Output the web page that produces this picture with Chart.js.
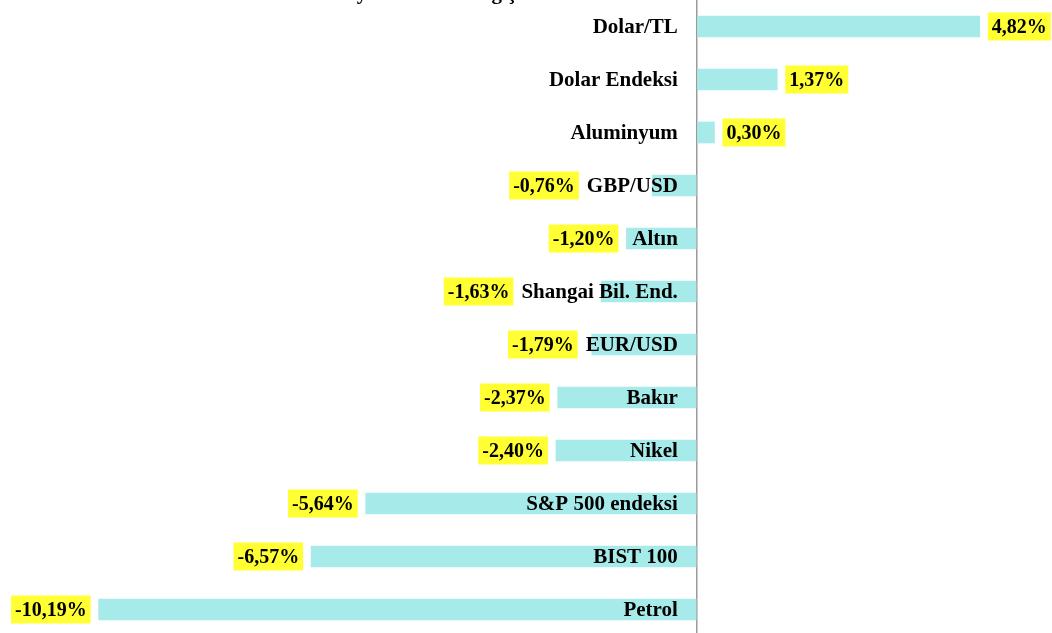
<!DOCTYPE html>
<html>
<head>
<meta charset="utf-8">
<script src="https://cdn.jsdelivr.net/npm/chart.js@4.4.1/dist/chart.umd.min.js"></script>
<style>
    html, body { margin: 0; padding: 0; background: #fff; overflow: hidden; }
    #wrap { position: relative; width: 1052px; height: 636px; }
    #title {
        position: absolute; left: 338px; top: -20px;
        font: bold 21px 'Liberation Serif', serif; color: #000; white-space: nowrap;
    }
</style>
</head>
<body>
<div id="wrap">
    <canvas id="changeChart" width="1052" height="636"></canvas>
    <div id="title">Piyasalardaki Değişimler</div>
</div>
<script>
const categories = ['Dolar/TL', 'Dolar Endeksi', 'Aluminyum', 'GBP/USD', 'Altın', 'Shangai Bil. End.',
    'EUR/USD', 'Bakır', 'Nikel', 'S&P 500 endeksi', 'BIST 100', 'Petrol'];
const changes = [4.82, 1.37, 0.30, -0.76, -1.20, -1.63, -1.79, -2.37, -2.40, -5.64, -6.57, -10.19];

const catFont = "bold 21px 'Liberation Serif', serif";
const valFont = "bold 20px 'Liberation Serif', serif";

function formatPct(v) {
    return v.toFixed(2).replace('.', ',') + '%';
}

// category names next to the zero line, and yellow value boxes at the bar ends
const barLabels = {
    id: 'barLabels',
    afterDatasetsDraw(chart) {
        const ctx = chart.ctx;
        const meta = chart.getDatasetMeta(0);
        const zeroX = chart.scales.x.getPixelForValue(0);
        const labelRight = zeroX - 19;
        ctx.save();
        ctx.textBaseline = 'middle';
        meta.data.forEach((bar, i) => {
            // category text
            ctx.font = catFont;
            ctx.fillStyle = '#000';
            ctx.textAlign = 'right';
            ctx.fillText(categories[i], labelRight, bar.y + 1);
            const labelLeft = labelRight - ctx.measureText(categories[i]).width;

            // value box
            const v = changes[i];
            const text = formatPct(v);
            ctx.font = valFont;
            const w = ctx.measureText(text).width + 8;
            const h = 28;
            let left;
            if (v >= 0) {
                left = bar.x + 8;
            } else {
                left = Math.min(bar.x, labelLeft) - 8 - w;
            }
            ctx.fillStyle = '#ffff33';
            ctx.fillRect(left, bar.y - h / 2, w, h);
            ctx.fillStyle = '#000';
            ctx.textAlign = 'center';
            ctx.fillText(text, left + w / 2, bar.y + 1);
        });
        ctx.restore();
    }
};

const ctx = document.getElementById('changeChart').getContext('2d');
new Chart(ctx, {
    type: 'bar',
    data: {
        labels: categories,
        datasets: [{
            data: changes,
            backgroundColor: '#a6eaea',
            borderWidth: 0,
            barThickness: 21
        }]
    },
    options: {
        indexAxis: 'y',
        responsive: false,
        animation: false,
        layout: { padding: 0 },
        plugins: {
            legend: { display: false },
            tooltip: { enabled: false }
        },
        scales: {
            x: {
                min: -11.87,
                max: 6.05,
                afterBuildTicks: (scale) => { scale.ticks = [{ value: 0 }]; },
                ticks: { display: false },
                border: { display: false },
                grid: { color: '#9a9a9a', lineWidth: 1.5, drawTicks: false }
            },
            y: {
                display: false
            }
        }
    },
    plugins: [barLabels]
});
</script>
</body>
</html>
